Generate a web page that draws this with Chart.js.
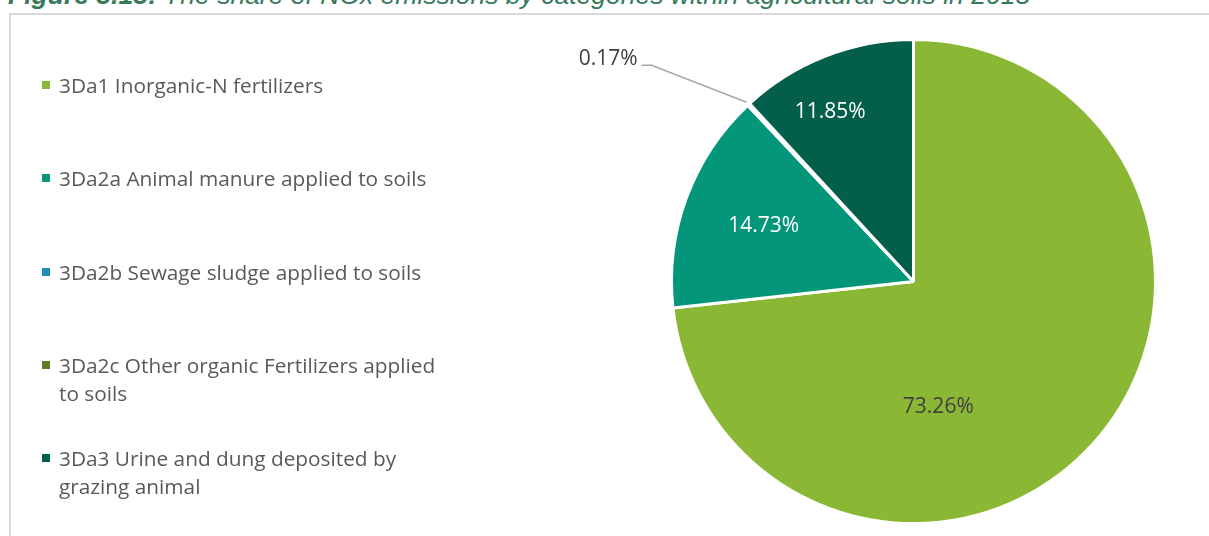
<!DOCTYPE html>
<html lang="en">
<head>
  <meta charset="UTF-8">
  <title>NOx emissions by categories within agricultural soils</title>
  <script src="https://cdn.jsdelivr.net/npm/chart.js"></script>
  <style>
    html, body { margin: 0; padding: 0; background: #fff; overflow: hidden; }
    body { width: 1209px; height: 536px; position: relative; font-family: "Open Sans", sans-serif; }
    .title { position: absolute; left: 8px; top: -20px; font-family: "Liberation Sans", Arial, sans-serif; font-style: italic; font-size: 26.5px; line-height: 30px; color: #367a5c; white-space: nowrap; }
    .title b { font-weight: bold; }
    .frame { position: absolute; left: 9px; top: 13px; width: 1300px; height: 600px; border: 2px solid #d9d9d9; box-sizing: border-box; }
    .chart-box { position: absolute; left: 0; top: 0; width: 1209px; height: 536px; }
    #legend { position: absolute; left: 0; top: 0; }
    .item { position: absolute; left: 42px; white-space: nowrap; font-size: 20.8px; line-height: 28px; color: #595959; }
    .item i { position: absolute; left: 0; top: 10px; width: 8px; height: 8px; }
    .item span { display: block; margin-left: 17px; }
  </style>
</head>
<body>
  <div class="title"><b>Figure 3.13:</b> The share of NOx emissions by categories within agricultural soils in 2018</div>
  <div class="frame"></div>
  <div class="chart-box"><canvas id="pie"></canvas></div>
  <div id="legend"></div>

  <script>
    // categories (line breaks as in the legend) and shares in %
    const categories = [
      ['3Da1 Inorganic-N fertilizers'],
      ['3Da2a Animal manure applied to soils'],
      ['3Da2b Sewage sludge applied to soils'],
      ['3Da2c Other organic Fertilizers applied', 'to soils'],
      ['3Da3 Urine and dung deposited by', 'grazing animal']
    ];
    const shares = [73.26, 14.73, 0.17, 0, 11.85];
    const colors = ['#8bb834', '#04967a', '#1f8fb8', '#5b7d27', '#035e4a'];

    // label look for each slice
    const labelStyle = [
      { color: '#404040', r: 0.53, shift: 37 },
      { color: '#ffffff', r: 0.66, shift: 0 },
      { color: '#404040', outside: true },
      null,
      { color: '#ffffff', r: 0.78, shift: -4.9 }
    ];

    // legend
    const legend = document.getElementById('legend');
    categories.forEach((lines, i) => {
      const d = document.createElement('div');
      d.className = 'item';
      d.style.top = (71 + i * 93.3) + 'px';
      d.innerHTML = '<i style="background:' + colors[i] + '"></i><span>' + lines.join('<br>') + '</span>';
      legend.appendChild(d);
    });

    // percent labels drawn on the slices
    const sliceLabels = {
      id: 'sliceLabels',
      afterDatasetsDraw(chart) {
        const ctx = chart.ctx;
        const arcs = chart.getDatasetMeta(0).data;
        ctx.save();
        ctx.font = '21px "Open Sans"';
        ctx.textBaseline = 'middle';
        arcs.forEach((arc, i) => {
          const st = labelStyle[i];
          if (!st) return;
          const p = arc.getProps(['x', 'y', 'startAngle', 'endAngle', 'outerRadius'], true);
          const mid = (p.startAngle + p.endAngle) / 2;
          const text = shares[i].toFixed(2) + '%';
          ctx.fillStyle = st.color;
          if (st.outside) {
            const r = p.outerRadius + 3;
            const x0 = p.x + Math.cos(mid) * r, y0 = p.y + Math.sin(mid) * r;
            const x1 = x0 - 95, y1 = y0 - 37;
            ctx.strokeStyle = '#a6a6a6';
            ctx.lineWidth = 1.5;
            ctx.beginPath();
            ctx.moveTo(x0, y0); ctx.lineTo(x1, y1); ctx.lineTo(x1 - 10, y1);
            ctx.stroke();
            ctx.textAlign = 'right';
            ctx.fillText(text, x1 - 14, y1 - 6);
          } else {
            const a = mid + st.shift * Math.PI / 180;
            const r = p.outerRadius * st.r;
            ctx.textAlign = 'center';
            ctx.fillText(text, p.x + Math.cos(a) * r, p.y + Math.sin(a) * r);
          }
        });
        ctx.restore();
      }
    };

    new Chart(document.getElementById('pie'), {
      type: 'pie',
      data: {
        labels: categories.map(l => l.join(' ')),
        datasets: [{
          data: shares,
          backgroundColor: colors,
          borderColor: '#ffffff',
          borderWidth: 3
        }]
      },
      options: {
        responsive: true,
        maintainAspectRatio: false,
        animation: false,
        layout: { padding: { left: 670, right: 52, top: 38, bottom: 11 } },
        plugins: { legend: { display: false }, tooltip: { enabled: false } }
      },
      plugins: [sliceLabels]
    });
  </script>
</body>
</html>
